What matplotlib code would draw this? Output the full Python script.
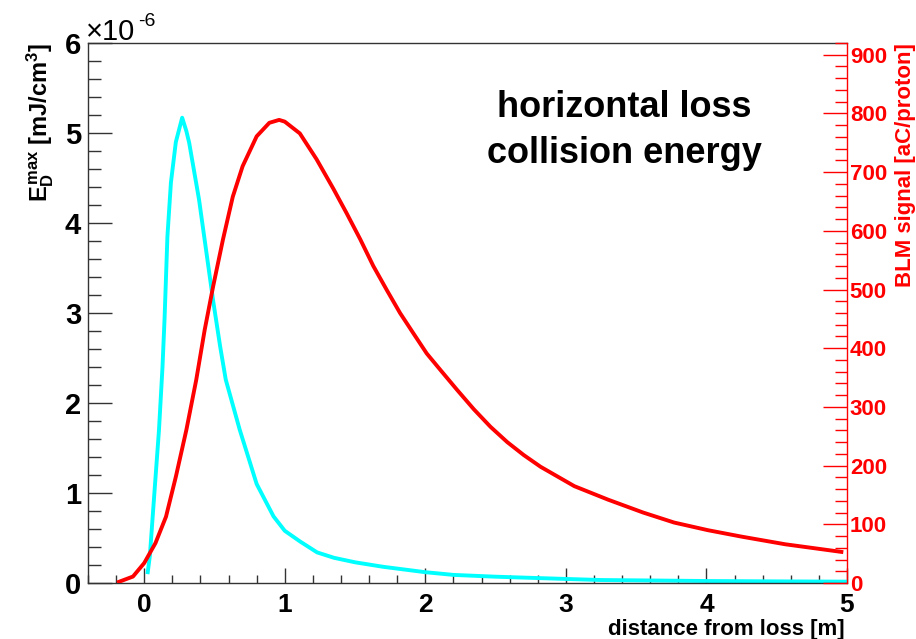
import matplotlib
matplotlib.use("Agg")
import matplotlib.pyplot as plt
from matplotlib.ticker import MultipleLocator

# energy deposition (units of 1e-6 mJ/cm3) vs distance from loss [m]
dep_x = [0.025, 0.04, 0.07, 0.105, 0.13, 0.145, 0.165, 0.19, 0.225, 0.25, 0.27,
         0.30, 0.32, 0.39, 0.44, 0.49, 0.54, 0.58, 0.68, 0.80, 0.92, 1.0, 1.11,
         1.23, 1.35, 1.5, 1.7, 2.0, 2.2, 2.5, 3.0, 3.25, 3.6, 4.0, 4.5, 5.0]
dep_y = [0.12, 0.30, 0.95, 1.70, 2.40, 2.95, 3.85, 4.45, 4.90, 5.05, 5.17,
         5.02, 4.89, 4.26, 3.70, 3.14, 2.63, 2.26, 1.70, 1.10, 0.74, 0.58, 0.46,
         0.34, 0.28, 0.23, 0.18, 0.12, 0.09, 0.07, 0.045, 0.033, 0.028, 0.022, 0.018, 0.015]

# BLM signal [aC/proton]
blm_x = [-0.18, -0.08, 0.0, 0.08, 0.155, 0.225, 0.30, 0.37, 0.43, 0.49, 0.56,
         0.63, 0.70, 0.80, 0.89, 0.96, 1.0, 1.107, 1.226, 1.345, 1.44, 1.536,
         1.63, 1.726, 1.82, 1.916, 2.01, 2.107, 2.226, 2.345, 2.464, 2.583,
         2.70, 2.82, 3.06, 3.30, 3.55, 3.77, 4.01, 4.25, 4.56, 4.96]
blm_y = [2, 11, 34, 68, 113, 181, 261, 346, 431, 505, 585,
         658, 710, 761, 784, 789, 786, 766, 722, 672, 630, 586,
         540, 499, 460, 425, 391, 363, 329, 296, 266, 240,
         218, 198, 165, 142, 120, 103, 90, 79, 66, 53]

W, H = 916, 639
plt.rcParams["font.family"] = ["Liberation Sans", "DejaVu Sans"]
plt.rcParams["mathtext.fontset"] = "custom"
plt.rcParams["mathtext.rm"] = "Liberation Sans:bold"
plt.rcParams["mathtext.it"] = "Liberation Sans:bold"
plt.rcParams["mathtext.bf"] = "Liberation Sans:bold"

fig = plt.figure(figsize=(W / 100, H / 100), dpi=100)
ax = fig.add_axes([88 / W, 1 - 583 / H, (847 - 88) / W, (583 - 43) / H])
ax2 = ax.twinx()

ax.plot(dep_x, dep_y, color="#00ffff", lw=2.8, solid_joinstyle="round")
ax2.plot(blm_x, blm_y, color="#ff0000", lw=2.8, solid_joinstyle="round")

ax.set_xlim(-0.4, 5.0)
ax.set_ylim(0, 6)
ax2.set_ylim(0, 920)

ax.xaxis.set_major_locator(MultipleLocator(1))
ax.xaxis.set_minor_locator(MultipleLocator(0.2))
ax.yaxis.set_major_locator(MultipleLocator(1))
ax.yaxis.set_minor_locator(MultipleLocator(0.2))
ax2.yaxis.set_major_locator(MultipleLocator(100))
ax2.yaxis.set_minor_locator(MultipleLocator(20))

for s in ["left", "bottom", "top"]:
    ax.spines[s].set_color("#333333")
    ax.spines[s].set_linewidth(1.0)
for s in ["left", "bottom", "top"]:
    ax2.spines[s].set_visible(False)
ax2.spines["right"].set_color("#ff0000")
ax2.spines["right"].set_linewidth(1.0)
ax.spines["right"].set_visible(False)

ax.tick_params(axis="x", which="major", direction="in", length=11, width=1,
               color="#333333", labelsize=19, pad=7, top=False)
ax.tick_params(axis="x", which="minor", direction="in", length=6, width=1,
               color="#333333", top=False)
ax.tick_params(axis="y", which="major", direction="in", length=17, width=1,
               color="#333333", labelsize=21, pad=5, right=False)
ax.tick_params(axis="y", which="minor", direction="in", length=9, width=1,
               color="#333333", right=False)
ax2.tick_params(axis="y", which="major", direction="in", length=17, width=1,
                color="#ff0000", labelcolor="#ff0000", labelsize=16, pad=2)
ax2.tick_params(axis="y", which="minor", direction="in", length=9, width=1,
                color="#ff0000")

for lab in ax.get_xticklabels() + ax.get_yticklabels() + ax2.get_yticklabels():
    lab.set_fontweight("bold")

fig.text(845 / W, 1 - 635 / H, "distance from loss [m]", fontsize=16,
         fontweight="bold", ha="right", va="baseline")
ax.set_ylabel(r"$E_D^{max}$ [mJ/cm$^3$]", fontsize=17, fontweight="bold",
              ha="right", y=1.0, labelpad=6)
fig.text(906 / W, 1 - 43 / H, "BLM signal [aC/proton]", fontsize=16,
         fontweight="bold", color="#ff0000", rotation=90,
         ha="center", va="top")

fig.text(86 / W, 1 - 40 / H, "\u00d710", fontsize=21, ha="left", va="baseline")
fig.text(138 / W, 1 - 26 / H, "-6", fontsize=14, ha="left", va="baseline")

fig.text(624 / W, 1 - 117 / H, "horizontal loss", fontsize=26, fontweight="bold",
         ha="center", va="baseline")
fig.text(624 / W, 1 - 163 / H, "collision energy", fontsize=26, fontweight="bold",
         ha="center", va="baseline")

fig.savefig("out.png", dpi=100)
